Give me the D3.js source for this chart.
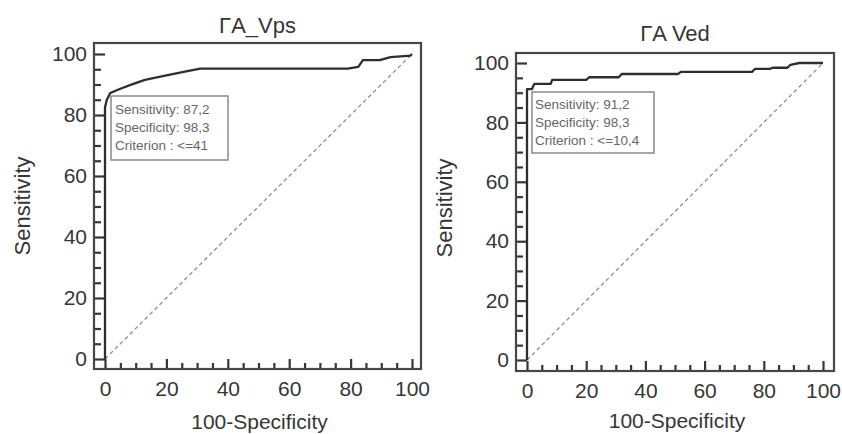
<!DOCTYPE html>
<html><head><meta charset="utf-8">
<script src="https://cdn.jsdelivr.net/npm/d3@7"></script>
<style>
html,body{margin:0;padding:0;background:#fff;}
svg{display:block;font-family:"Liberation Sans",Arial,sans-serif;}
</style></head>
<body>
<svg id="chart" width="842" height="434"></svg>
<script>
// ---- data ----
const titles = ["ΓA_Vps", "ΓA Ved"];
const xAxisLabel = "100-Specificity";
const yAxisLabel = "Sensitivity";
const majorTicks = [0, 20, 40, 60, 80, 100];
const minorTicks = [5, 10, 15, 25, 30, 35, 45, 50, 55, 65, 70, 75, 85, 90, 95];

// ROC curve 1 (ΓA_Vps)
const vpsFpr  = [0, 0,    0.6, 1.7,  5,    9,    13,   20,   26,   31,   79,   82.5, 84,   89.5, 93, 99.5, 100];
const vpsSens = [0, 82.5, 85,  87.2, 88.6, 90.1, 91.5, 93,   94.2, 95.2, 95.2, 95.8, 98,   98,   99, 99.5, 100];
// ROC curve 2 (ΓA Ved)
const vedFpr  = [0, 0,    1.7,  2,  2.5, 8,  8.5,  20,   21,   31,   32,   51,   52, 76, 77, 82, 83,   88,   89,   92,  100];
const vedSens = [0, 91.2, 91.2, 92, 93,  93, 94.3, 94.3, 95.2, 95.2, 96.3, 96.3, 97, 97, 98, 98, 98.4, 98.4, 99.4, 100, 100];

const annVps = ["Sensitivity: 87,2", "Specificity: 98,3", "Criterion : <=41"];
const annVed = ["Sensitivity: 91,2", "Specificity: 98,3", "Criterion : <=10,4"];

// ---- layout ----
const panels = [
  {title: titles[0], fpr: vpsFpr, sens: vpsSens, ann: annVps,
   frame: {x0: 94, x1: 421, y0: 43, y1: 369}, xr: [105, 412], yr: [359, 54],
   titleY: 33, ylabX: 22, ylabY: 206, xlabY: 429,
   box: {x: 111, y: 96, w: 117, h: 64}, annX: 115, annY: 114},
  {title: titles[1], fpr: vedFpr, sens: vedSens, ann: annVed,
   frame: {x0: 516, x1: 834, y0: 53, y1: 371}, xr: [527, 823], yr: [360, 63],
   titleY: 41, ylabX: 444, ylabY: 208, xlabY: 428,
   box: {x: 532, y: 92, w: 122, h: 61}, annX: 535, annY: 109}
];

const svg = d3.select("#chart");
const ink = "#363636";

panels.forEach(p => {
  const g = svg.append("g");
  const x = d3.scaleLinear().domain([0, 100]).range(p.xr);
  const y = d3.scaleLinear().domain([0, 100]).range(p.yr);
  const f = p.frame;

  // diagonal reference
  g.append("path")
    .attr("d", d3.line()([[x(0), y(0)], [x(100), y(100)]]))
    .attr("stroke", "#8f8f8f").attr("stroke-width", 1.3)
    .attr("stroke-dasharray", "4,3").attr("fill", "none");

  // ROC curve
  const pts = p.fpr.map((v, i) => [v, p.sens[i]]);
  g.append("path")
    .attr("d", d3.line().x(d => x(d[0])).y(d => y(d[1]))(pts))
    .attr("stroke", "#2e2e2e").attr("stroke-width", 2.3).attr("fill", "none")
    .attr("stroke-linejoin", "round");

  // y ticks (inward from left frame)
  const yMaj = g.append("g").attr("transform", `translate(${f.x0},0)`)
    .call(d3.axisRight(y).tickValues(majorTicks).tickSize(11).tickSizeOuter(0).tickFormat(""));
  const yMin = g.append("g").attr("transform", `translate(${f.x0},0)`)
    .call(d3.axisRight(y).tickValues(minorTicks).tickSize(7).tickSizeOuter(0).tickFormat(""));
  const yLab = g.append("g").attr("transform", `translate(${f.x0},0)`)
    .call(d3.axisLeft(y).tickValues(majorTicks).tickSize(0).tickPadding(7).tickFormat(d3.format("d")));
  // x ticks (inward from bottom frame)
  const xMaj = g.append("g").attr("transform", `translate(0,${f.y1})`)
    .call(d3.axisTop(x).tickValues(majorTicks).tickSize(10).tickSizeOuter(0).tickFormat(""));
  const xMin = g.append("g").attr("transform", `translate(0,${f.y1})`)
    .call(d3.axisTop(x).tickValues(minorTicks).tickSize(6).tickSizeOuter(0).tickFormat(""));
  const xLab = g.append("g").attr("transform", `translate(0,${f.y1})`)
    .call(d3.axisBottom(x).tickValues(majorTicks).tickSize(0).tickPadding(12).tickFormat(d3.format("d")));

  [yMaj, yMin, yLab, xMaj, xMin, xLab].forEach(a => {
    a.select(".domain").remove();
    a.selectAll("line").attr("stroke", ink).attr("stroke-width", 2.2);
    a.selectAll("text").attr("fill", ink).style("font-size", "21px")
      .style("font-family", "'Liberation Sans',Arial,sans-serif");
  });

  // frame
  g.append("rect").attr("x", f.x0).attr("y", f.y0)
    .attr("width", f.x1 - f.x0).attr("height", f.y1 - f.y0)
    .attr("fill", "none").attr("stroke", "#474747").attr("stroke-width", 2.2);

  // title
  g.append("text").attr("x", (f.x0 + f.x1) / 2).attr("y", p.titleY)
    .attr("text-anchor", "middle").attr("fill", ink).style("font-size", "22px")
    .text(p.title);

  // axis labels
  g.append("text").attr("x", (f.x0 + f.x1) / 2 + 2).attr("y", p.xlabY)
    .attr("text-anchor", "middle").attr("fill", ink).style("font-size", "21px")
    .text(xAxisLabel);
  g.append("text")
    .attr("transform", `translate(${p.ylabX},${p.ylabY}) rotate(-90)`)
    .attr("dy", "0.35em").attr("text-anchor", "middle").attr("fill", ink)
    .style("font-size", "22px").text(yAxisLabel);

  // annotation box
  g.append("rect").attr("x", p.box.x).attr("y", p.box.y)
    .attr("width", p.box.w).attr("height", p.box.h)
    .attr("fill", "#fff").attr("stroke", "#8a8a8a").attr("stroke-width", 1.5);
  g.selectAll("text.ann").data(p.ann).enter().append("text")
    .attr("class", "ann")
    .attr("x", p.annX).attr("y", (d, i) => p.annY + i * 18)
    .attr("fill", "#666").style("font-size", "13.5px")
    .text(d => d);
});
</script>
</body></html>
